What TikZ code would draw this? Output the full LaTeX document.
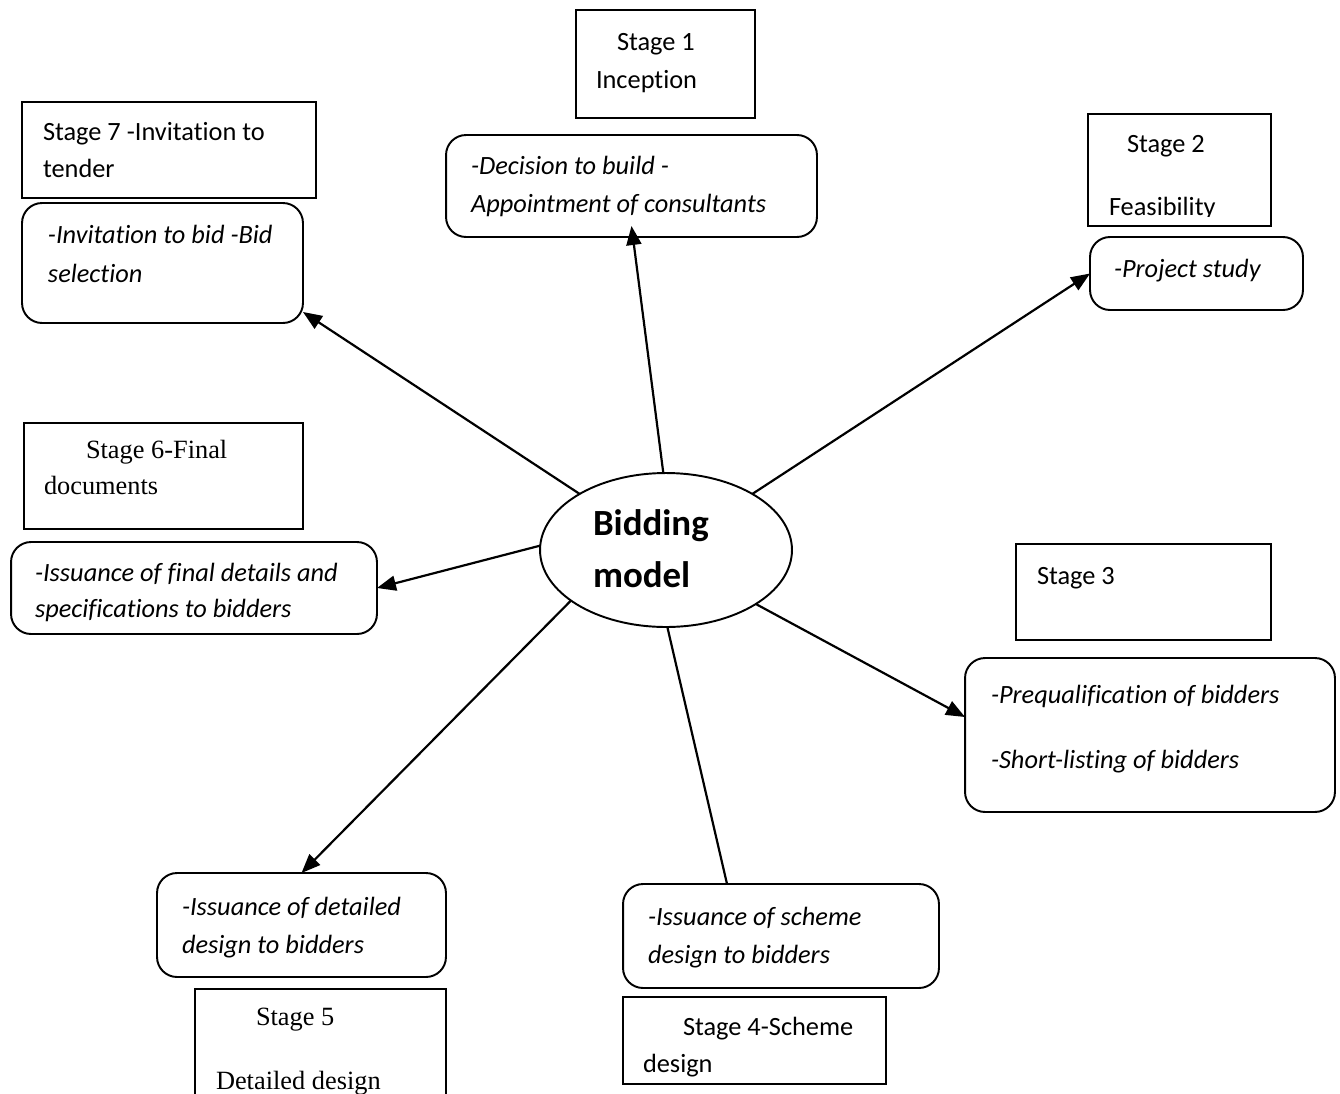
\documentclass[tikz,border=0pt]{standalone}
\usepackage{fontspec}
\setmainfont{Carlito}[RawFeature={-liga;-clig;-calt;-dlig}]
\newfontfamily\timesf{Liberation Serif}
\usetikzlibrary{shapes.geometric,arrows.meta,calc}
\begin{document}
\begin{tikzpicture}[x=0.02cm,y=-0.02cm,
 sbox/.style={draw,line width=1.1pt,rectangle,inner sep=0pt,outer sep=0pt},
 rbox/.style={draw,line width=1.1pt,rectangle,rounded corners=0.4cm,inner sep=0pt,outer sep=0pt},
 txt/.style={inner sep=0pt,outer sep=0pt,anchor=base west,font=\fontsize{15}{18}\selectfont},
 itxt/.style={txt,font=\fontsize{15}{18}\selectfont\itshape},
 ttxt/.style={txt,font=\fontsize{15}{18}\selectfont\timesf},
 btxt/.style={txt,font=\fontsize{21}{25}\selectfont\bfseries},
 arr/.style={line width=1.25pt,-{Triangle[length=0.38cm,width=0.3cm]}},
 ln/.style={line width=1.25pt}]
\useasboundingbox (0,0) rectangle (1340,1093);
\clip (0,0) rectangle (1340,1093);

% centre
\node[draw,line width=1.1pt,ellipse,minimum width=5.04cm,minimum height=3.08cm,inner sep=0pt,outer sep=0pt] (ell) at (666,550) {};
\node[btxt] (bt1) at (593,535) {Bidding};
\node[btxt] (bt2) at (593,587) {model};

% stage 1
\node[sbox,minimum width=3.58cm,minimum height=2.16cm] (s1) at (665.5,64) {};
\node[txt] (s1a) at (617,50) {Stage 1};
\node[txt] (s1b) at (596,88) {Inception};
\node[rbox,minimum width=7.42cm,minimum height=2.04cm] (r1) at (631.5,186) {};
\node[itxt] (r1a) at (471,174) {-Decision to build -};
\node[itxt] (r1b) at (471,212) {Appointment of consultants};

% stage 2
\node[sbox,minimum width=3.66cm,minimum height=2.24cm] (s2) at (1179.5,170) {};
\node[txt] (s2a) at (1127,152) {Stage 2};
\begin{scope}
\clip (1090,120) rectangle (1270,216);
\node[txt] (s2b) at (1109,215) {Feasibility};
\end{scope}
\node[rbox,minimum width=4.26cm,minimum height=1.46cm] (r2) at (1196.5,273.5) {};
\node[itxt] (r2a) at (1114,277) {-Project study};

% stage 3
\node[sbox,minimum width=5.10cm,minimum height=1.92cm] (s3) at (1143.5,592) {};
\node[txt] (s3a) at (1037,584) {Stage 3};
\node[rbox,minimum width=7.40cm,minimum height=3.08cm] (r3) at (1150,735) {};
\node[itxt] (r3a) at (991,703) {-Prequalification of bidders};
\node[itxt] (r3b) at (991,768) {-Short-listing of bidders};

% stage 4
\node[rbox,minimum width=6.32cm,minimum height=2.08cm] (r4) at (781,936) {};
\node[itxt] (r4a) at (648,925) {-Issuance of scheme};
\node[itxt] (r4b) at (648,963) {design to bidders};
\node[sbox,minimum width=5.26cm,minimum height=1.74cm] (s4) at (754.5,1040.5) {};
\node[txt] (s4a) at (683,1035) {Stage 4-Scheme};
\node[txt] (s4b) at (643,1072) {design};

% stage 5
\node[rbox,minimum width=5.78cm,minimum height=2.08cm] (r5) at (301.5,925) {};
\node[itxt] (r5a) at (182,915) {-Issuance of detailed};
\node[itxt] (r5b) at (182,953) {design to bidders};
\node[sbox,minimum width=5.02cm,minimum height=2.42cm] (s5) at (320.5,1049.5) {};
\node[ttxt] (s5a) at (256,1025) {Stage 5};
\node[ttxt] (s5b) at (216,1089) {Detailed design};

% stage 6
\node[sbox,minimum width=5.58cm,minimum height=2.12cm] (s6) at (163.5,476) {};
\node[ttxt] (s6a) at (86,458) {Stage 6-Final};
\node[ttxt] (s6b) at (44,494) {documents};
\node[rbox,minimum width=7.32cm,minimum height=1.84cm] (r6) at (194,588) {};
\node[itxt] (r6a) at (35,581) {-Issuance of final details and};
\begin{scope}
\clip (15,590) rectangle (375,621);
\node[itxt] (r6b) at (35,617) {specifications to bidders};
\end{scope}

% stage 7
\node[sbox,minimum width=5.88cm,minimum height=1.92cm] (s7) at (169,150) {};
\node[txt] (s7a) at (43,140) {Stage 7 -Invitation to};
\node[txt] (s7b) at (43,177) {tender};
\node[rbox,minimum width=5.62cm,minimum height=2.40cm] (r7) at (162.5,263) {};
\node[itxt] (r7a) at (48,243) {-Invitation to bid -Bid};
\node[itxt] (r7b) at (48,282) {selection};

% connectors
\draw[arr] (ell.92) -- ($(r1.south)+(0,-11)$);
\draw[arr] (ell.33) -- (r2.west);
\draw[arr] (ell.-31) -- ($(r3.west)+(0,-18)$);
\draw[ln] (ell.-89) -- ($(r4.north west)+(104,0)$);
\draw[arr] (ell.208) -- (r5.north);
\draw[arr] (ell.178) -- (r6.east);
\draw[arr] (ell.147) -- ($(r7.south east)+(0,-11)$);
\end{tikzpicture}
\end{document}
